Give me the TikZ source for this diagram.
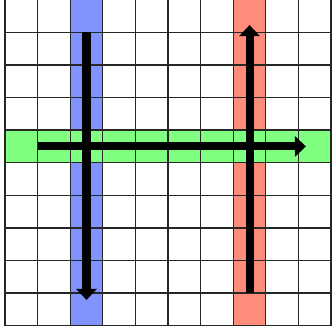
\documentclass[tikz,border=0pt]{standalone}
\usepackage{xcolor}
\definecolor{colblue}{RGB}{128,147,255}
\definecolor{colred}{RGB}{255,140,122}
\definecolor{rowgreen}{RGB}{128,255,128}
\usetikzlibrary{arrows.meta}

\begin{document}
\begin{tikzpicture}[
  gridline/.style={draw=black!85,line width=1.1pt},
  sweep/.style={-{Triangle[width=0.62cm,length=0.34cm]},line width=7pt,black}]
  \useasboundingbox (-0.153,-0.166) rectangle (10.06,9.99);
  % Highlighted strips
  \fill[colblue] (2,0) rectangle (3,10);
  \fill[colred] (7,0) rectangle (8,10);
  \fill[rowgreen] (0,5) rectangle (10,6);
  % Grid
  \draw[gridline] (0,0) grid (10,10);
  % Arrow ends
  \coordinate (bstart) at (2.5,9);
  \coordinate (bend) at (2.5,0.79);
  \coordinate (rstart) at (7.5,1);
  \coordinate (rend) at (7.5,9.22);
  \coordinate (gstart) at (1.02,5.5);
  \coordinate (gend) at (9.23,5.5);
  % Arrows
  \draw[sweep] (bstart) -- (bend);
  \draw[sweep] (rstart) -- (rend);
  \draw[sweep] (gstart) -- (gend);
\end{tikzpicture}
\end{document}
